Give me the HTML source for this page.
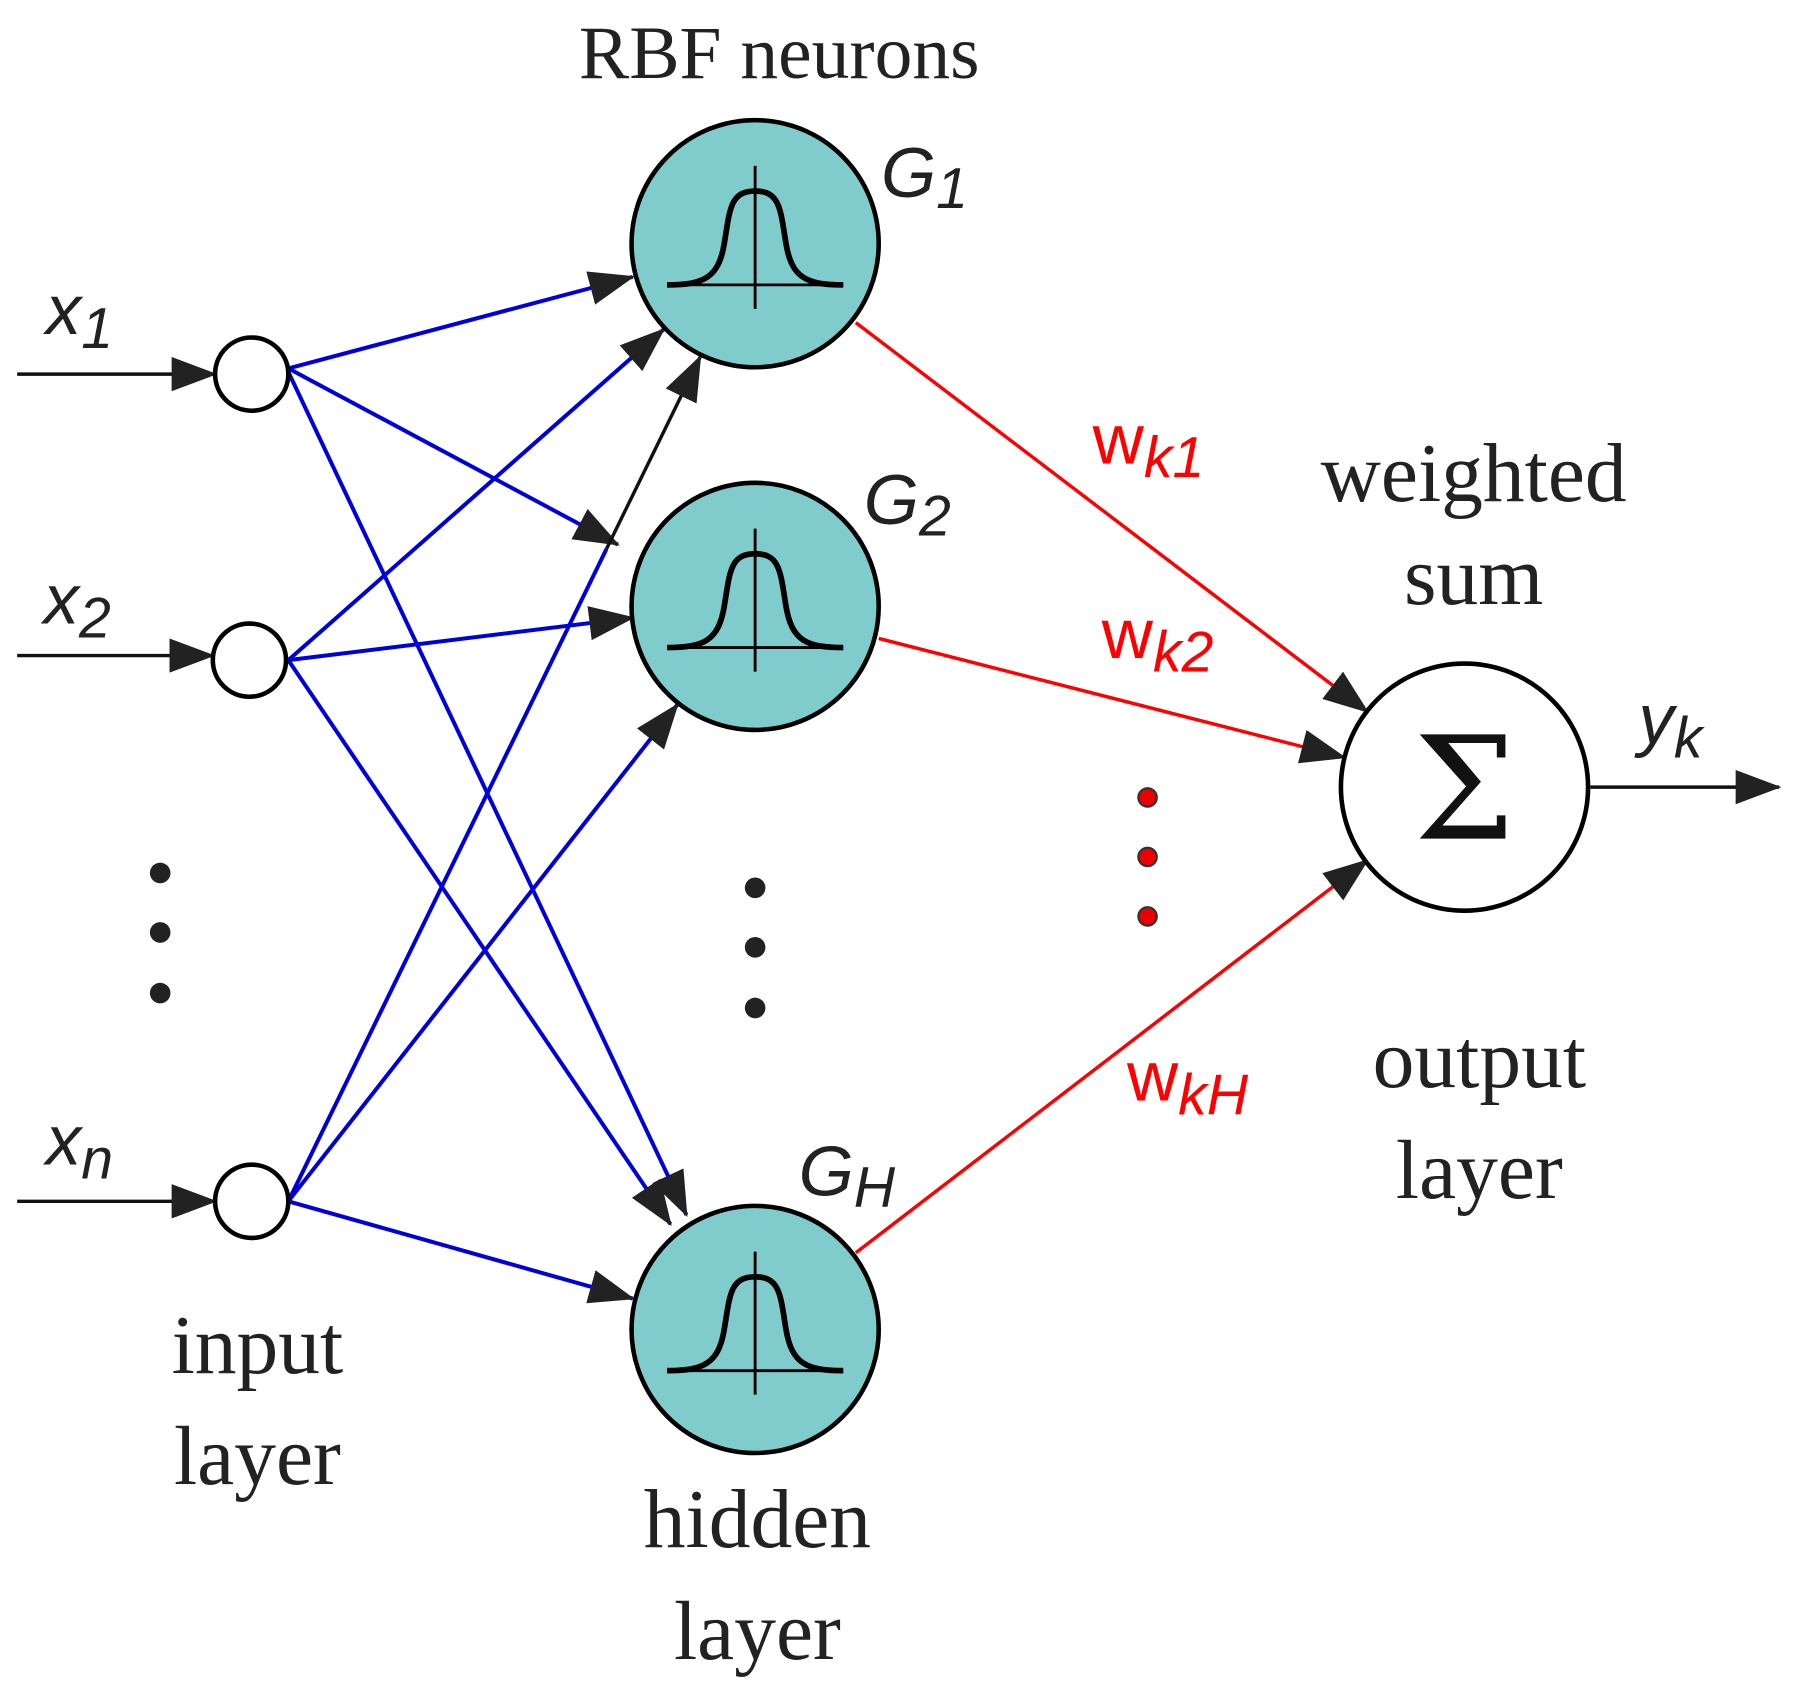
<!DOCTYPE html>
<html><head><meta charset="utf-8"><style>html,body{margin:0;padding:0;background:#fff}svg{display:block}</style></head><body>
<svg width="1794" height="1703" viewBox="0 0 1568 1488.5" preserveAspectRatio="none" xmlns="http://www.w3.org/2000/svg">
<defs>
<marker id="a" markerUnits="userSpaceOnUse" markerWidth="40" markerHeight="30" refX="38" refY="15" orient="auto"><path d="M0,0 L40,15 L0,30 Z" fill="#222"/></marker>
<g id="gauss">
<circle r="108" fill="#80cccc" stroke="#000" stroke-width="4"/>
<line x1="-77" y1="36" x2="77" y2="36" stroke="#000" stroke-width="2.5"/>
<line x1="0" y1="-68" x2="0" y2="57" stroke="#000" stroke-width="2.5"/>
<path d="M-77,36 C-45,36 -32,30 -27,0 C-22,-30 -22,-46 0,-46 C22,-46 22,-30 27,0 C32,30 45,36 77,36" fill="none" stroke="#000" stroke-width="5"/>
</g>
</defs>
<g stroke="#0000dd" stroke-width="3.5" fill="none">
<line x1="252" y1="322" x2="553" y2="242" marker-end="url(#a)"/>
<line x1="252" y1="322" x2="540" y2="476" marker-end="url(#a)"/>
<line x1="252" y1="325" x2="600" y2="1062" marker-end="url(#a)"/>
<line x1="252" y1="577" x2="580" y2="288" marker-end="url(#a)"/>
<line x1="252" y1="577" x2="553" y2="540" marker-end="url(#a)"/>
<line x1="252" y1="577" x2="586" y2="1070" marker-end="url(#a)"/>
<line x1="252" y1="1050" x2="530" y2="480"/>
<line x1="252" y1="1050" x2="592" y2="616" marker-end="url(#a)"/>
<line x1="252" y1="1050" x2="553" y2="1135" marker-end="url(#a)"/>
</g>
<line x1="530" y1="480" x2="612" y2="312" stroke="#111" stroke-width="3" marker-end="url(#a)"/>
<g stroke="#ff0000" stroke-width="3">
<line x1="748" y1="282" x2="1195" y2="622" marker-end="url(#a)"/>
<line x1="768" y1="558" x2="1175" y2="662" marker-end="url(#a)"/>
<line x1="748" y1="1095" x2="1195" y2="752" marker-end="url(#a)"/>
</g>
<g stroke="#111" stroke-width="3">
<line x1="15" y1="327" x2="188" y2="327" marker-end="url(#a)"/>
<line x1="15" y1="573" x2="186" y2="573" marker-end="url(#a)"/>
<line x1="15" y1="1050" x2="188" y2="1050" marker-end="url(#a)"/>
<line x1="1390" y1="688" x2="1555" y2="688" marker-end="url(#a)"/>
</g>
<g fill="#fff" stroke="#000" stroke-width="4">
<circle cx="220" cy="327" r="32"/>
<circle cx="218" cy="577" r="32"/>
<circle cx="220" cy="1050" r="32"/>
<circle cx="1280" cy="688" r="108"/>
</g>
<use href="#gauss" x="660" y="213"/>
<use href="#gauss" x="660" y="530"/>
<use href="#gauss" x="660" y="1162"/>
<g fill="#222">
<circle cx="140" cy="763" r="9"/><circle cx="140" cy="815" r="9"/><circle cx="140" cy="868" r="9"/>
<circle cx="660" cy="776" r="9"/><circle cx="660" cy="828" r="9"/><circle cx="660" cy="881" r="9"/>
</g>
<g fill="#ee0000" stroke="#333" stroke-width="2">
<circle cx="1003" cy="697" r="8"/><circle cx="1003" cy="749" r="8"/><circle cx="1003" cy="801" r="8"/>
</g>
<text x="1280" y="733" text-anchor="middle" font-family="DejaVu Serif, serif" font-size="125" fill="#111">Σ</text>
<g font-family="Liberation Sans, sans-serif" font-style="italic" fill="#222" font-size="62">
<text x="40" y="292">x<tspan font-size="50" dy="12">1</tspan></text>
<text x="38" y="545">x<tspan font-size="50" dy="12">2</tspan></text>
<text x="40" y="1018">x<tspan font-size="50" dy="12">n</tspan></text>
<text x="770" y="172">G<tspan font-size="50" dy="10">1</tspan></text>
<text x="755" y="458">G<tspan font-size="50" dy="10">2</tspan></text>
<text x="698" y="1045">G<tspan font-size="50" dy="10">H</tspan></text>
<text x="1432" y="650">y<tspan font-size="50" dy="12">k</tspan></text>
</g>
<g font-family="Liberation Sans, sans-serif" fill="#ff0000" font-size="62">
<text x="955" y="405">w<tspan font-style="italic" font-size="50" dy="12">k1</tspan></text>
<text x="963" y="575">w<tspan font-style="italic" font-size="50" dy="12">k2</tspan></text>
<text x="985" y="962">w<tspan font-style="italic" font-size="50" dy="12">kH</tspan></text>
</g>
<g font-family="Liberation Serif, serif" fill="#222" font-size="73" text-anchor="middle">
<text x="681" y="68" font-size="66">RBF neurons</text>
<text x="1288" y="438">weighted</text>
<text x="1288" y="528">sum</text>
<text x="1293" y="950">output</text>
<text x="1293" y="1047">layer</text>
<text x="225" y="1200">input</text>
<text x="225" y="1297">layer</text>
<text x="662" y="1352">hidden</text>
<text x="662" y="1450">layer</text>
</g>
</svg>
</body></html>
